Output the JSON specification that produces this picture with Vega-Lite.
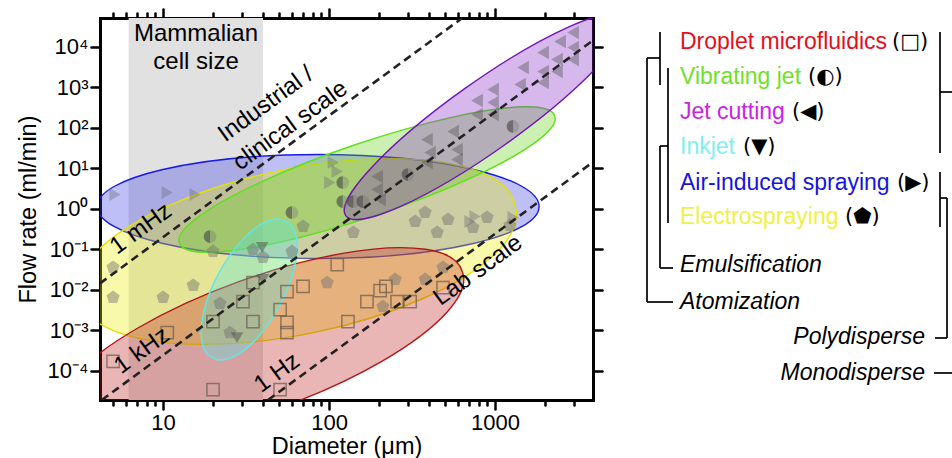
{
  "$schema": "https://vega.github.io/schema/vega-lite/v6.json",
  "width": 493,
  "height": 382,
  "autosize": {"type": "none"},
  "padding": {"left": 100, "top": 18, "right": 359, "bottom": 58},
  "background": "white",
  "config": {
    "view": {"stroke": null},
    "font": "Liberation Sans",
    "axis": {
      "domainColor": "black", "domainWidth": 3, "domainCap": "square",
      "tickColor": "black", "tickWidth": 2.5, "tickCap": "round",
      "grid": false, "labelColor": "black", "labelFontSize": 22, "labelFont": "Liberation Sans",
      "titleFontSize": 23.5, "titleFontWeight": "normal", "titleColor": "black", "titleFont": "Liberation Sans",
      "labelOverlap": false, "labelBound": false, "labelFlush": false, "zindex": 1
    }
  },
  "datasets": {
    "ellipses": [
      {"tech": "Air-induced spraying", "d": 85.9, "q": 1.14},
      {"tech": "Electrospraying", "d": 64.1, "q": 0.0882},
      {"tech": "Vibrating jet", "d": 169.4, "q": 5.29},
      {"tech": "Jet cutting", "d": 871, "q": 190},
      {"tech": "Droplet microfluidics", "d": 38.4, "q": 0.000446},
      {"tech": "Inkjet", "d": 33.0, "q": 0.01017}
    ],
    "freq": [
      {"line": "1 mHz", "d": 4.17, "q": 0.01445},
      {"line": "1 mHz", "d": 635, "q": 51286},
      {"line": "1 kHz", "d": 4.276, "q": 0.00001905},
      {"line": "1 kHz", "d": 3890, "q": 14355},
      {"line": "1 Hz", "d": 42.9, "q": 0.00001905},
      {"line": "1 Hz", "d": 3890, "q": 14.26}
    ],
    "droplet": [
      {"d": 5.0, "q": 0.00017}, {"d": 10.6, "q": 0.00088}, {"d": 20, "q": 0.0000345}, {"d": 50.7, "q": 0.0000345},
      {"d": 20, "q": 0.00165}, {"d": 34.8, "q": 0.00165}, {"d": 30.3, "q": 0.00514}, {"d": 34.8, "q": 0.0151},
      {"d": 55.8, "q": 0.00908}, {"d": 50.7, "q": 0.00326}, {"d": 55.8, "q": 0.00156}, {"d": 55.8, "q": 0.00088},
      {"d": 69.7, "q": 0.0121}, {"d": 112, "q": 0.0421}, {"d": 169, "q": 0.00514}, {"d": 203, "q": 0.0096},
      {"d": 220, "q": 0.0121}, {"d": 257, "q": 0.00514}, {"d": 308, "q": 0.00514}, {"d": 130, "q": 0.00165},
      {"d": 486, "q": 0.0114}
    ],
    "electro": [
      {"d": 5.0, "q": 0.00646}, {"d": 5.0, "q": 0.0356}, {"d": 10, "q": 0.00646}, {"d": 15.2, "q": 0.0128},
      {"d": 20, "q": 0.0882}, {"d": 22, "q": 0.0046}, {"d": 25.3, "q": 0.00088}, {"d": 34.8, "q": 0.0988},
      {"d": 40, "q": 0.0628}, {"d": 59.8, "q": 0.0882}, {"d": 69.7, "q": 0.366}, {"d": 97.3, "q": 0.0151},
      {"d": 140, "q": 0.26}, {"d": 211, "q": 0.00387}, {"d": 250, "q": 0.018}, {"d": 379, "q": 0.018},
      {"d": 486, "q": 0.0356}, {"d": 330, "q": 0.486}, {"d": 379, "q": 0.81}, {"d": 448, "q": 0.26},
      {"d": 521, "q": 0.544}, {"d": 736, "q": 0.345}, {"d": 896, "q": 0.61}, {"d": 1230, "q": 0.387}
    ],
    "jetcut": [
      {"d": 2953, "q": 22550}, {"d": 2464, "q": 13520}, {"d": 2953, "q": 9620}, {"d": 1947, "q": 7230},
      {"d": 2953, "q": 4850}, {"d": 2362, "q": 4850}, {"d": 1475, "q": 3080}, {"d": 1947, "q": 2455},
      {"d": 2362, "q": 2455}, {"d": 1415, "q": 1172}, {"d": 973, "q": 883}, {"d": 1947, "q": 1314},
      {"d": 779, "q": 470}, {"d": 973, "q": 422}, {"d": 779, "q": 213}, {"d": 973, "q": 213},
      {"d": 559, "q": 81}, {"d": 590, "q": 29.1}, {"d": 389, "q": 51.4}, {"d": 406, "q": 24.5},
      {"d": 389, "q": 13.9}, {"d": 590, "q": 16.5}, {"d": 195, "q": 6.28}, {"d": 195, "q": 3.0},
      {"d": 203, "q": 1.7}
    ],
    "air": [
      {"d": 5.14, "q": 2.25}, {"d": 10.6, "q": 2.53}, {"d": 15.6, "q": 2.25}, {"d": 101, "q": 4.46},
      {"d": 112, "q": 8.34}, {"d": 106, "q": 13.9}, {"d": 706, "q": 0.486}, {"d": 758, "q": 0.645},
      {"d": 1283, "q": 0.61}
    ],
    "inkjet": [
      {"d": 39.5, "q": 0.111}, {"d": 40, "q": 0.018}, {"d": 27.9, "q": 0.00066}
    ],
    "vibrating": [
      {"d": 19.2, "q": 0.207}, {"d": 59.8, "q": 0.81}, {"d": 121, "q": 4.46}, {"d": 121, "q": 1.51},
      {"d": 140, "q": 1.51}, {"d": 160, "q": 1.51}, {"d": 299, "q": 7.03}, {"d": 1283, "q": 108}
    ],
    "flatText": [
      {"t": "Mammalian", "d": 15.8, "q": 20140},
      {"t": "cell size", "d": 15.8, "q": 4094}
    ],
    "rotText": [
      {"t": "Industrial /", "d": 41.7, "q": 380},
      {"t": "clinical scale", "d": 58.5, "q": 113},
      {"t": "1 mHz", "d": 7.36, "q": 0.32},
      {"t": "1 kHz", "d": 7.47, "q": 0.00031},
      {"t": "1 Hz", "d": 48.6, "q": 0.000088},
      {"t": "Lab scale", "d": 790, "q": 0.03}
    ],
    "names": [
      {"tech": "Droplet microfluidics", "x": 680, "y": 42},
      {"tech": "Vibrating jet", "x": 680, "y": 77},
      {"tech": "Jet cutting", "x": 680, "y": 112},
      {"tech": "Inkjet", "x": 680, "y": 147},
      {"tech": "Air-induced spraying", "x": 680, "y": 183},
      {"tech": "Electrospraying", "x": 680, "y": 217}
    ],
    "syms": [
      {"s": "(□)", "x": 892, "y": 42},
      {"s": "(◐)", "x": 808, "y": 77},
      {"s": "(◀)", "x": 792, "y": 112},
      {"s": "(▼)", "x": 743, "y": 147},
      {"s": "(▶)", "x": 897, "y": 183},
      {"s": "(⬟)", "x": 845, "y": 217}
    ],
    "groupsLeft": [
      {"t": "Emulsification", "x": 680, "y": 265},
      {"t": "Atomization", "x": 680, "y": 302}
    ],
    "groupsRight": [
      {"t": "Polydisperse", "x": 925, "y": 337},
      {"t": "Monodisperse", "x": 925, "y": 373}
    ],
    "tree": [
      {"x": 660, "y": 32, "x2": 660, "y2": 85},
      {"x": 647, "y": 58, "x2": 660, "y2": 58},
      {"x": 647, "y": 58, "x2": 647, "y2": 302},
      {"x": 647, "y": 302, "x2": 673, "y2": 302},
      {"x": 668, "y": 68, "x2": 668, "y2": 223},
      {"x": 660, "y": 146, "x2": 668, "y2": 146},
      {"x": 660, "y": 146, "x2": 660, "y2": 268},
      {"x": 660, "y": 268, "x2": 673, "y2": 268},
      {"x": 940, "y": 32, "x2": 940, "y2": 153},
      {"x": 940, "y": 92, "x2": 952, "y2": 92},
      {"x": 940, "y": 172, "x2": 940, "y2": 227},
      {"x": 940, "y": 198, "x2": 947, "y2": 198},
      {"x": 947, "y": 198, "x2": 947, "y2": 338},
      {"x": 935, "y": 338, "x2": 947, "y2": 338},
      {"x": 934, "y": 373, "x2": 952, "y2": 373}
    ]
  },
  "layer": [
    {
      "layer": [
        {
          "data": {"values": [{"lo": 6.2, "hi": 40}]},
          "mark": {"type": "rect", "color": "#e1e1e1"},
          "encoding": {
            "x": {"field": "lo", "type": "quantitative",
              "scale": {"type": "log", "domain": [4.17, 3890], "nice": false},
              "axis": {"orient": "bottom",
                "values": [5,6,7,8,9,10,20,30,40,50,60,70,80,90,100,200,300,400,500,600,700,800,900,1000,2000,3000],
                "labelExpr": "datum.value == 10 ? '10' : datum.value == 100 ? '100' : datum.value == 1000 ? '1000' : ''",
                "tickSize": {"condition": {"test": "datum.value == 10 || datum.value == 100 || datum.value == 1000", "value": 9}, "value": 5},
                "labelPadding": 3,
                "title": "Diameter (μm)", "titleX": 246.5, "titleY": 46, "titleBaseline": "middle", "titleAlign": "center"}},
            "x2": {"field": "hi"}
          }
        },
        {
          "data": {"name": "ellipses"},
          "mark": {"type": "point", "filled": true, "size": 4, "fillOpacity": 0.33, "strokeOpacity": 1, "strokeWidth": 1.4, "clip": true},
          "encoding": {
            "x": {"field": "d", "type": "quantitative",
              "scale": {"type": "log", "domain": [4.17, 3890], "nice": false},
              "axis": {"orient": "top",
                "values": [5,6,7,8,9,10,20,30,40,50,60,70,80,90,100,200,300,400,500,600,700,800,900,1000,2000,3000],
                "labels": false,
                "tickSize": {"condition": {"test": "datum.value == 10 || datum.value == 100 || datum.value == 1000", "value": 9}, "value": 5},
                "title": null}},
            "y": {"field": "q", "type": "quantitative",
              "scale": {"type": "log", "domain": [0.00001905, 51286], "nice": false},
              "axis": {"orient": "left",
                "values": [0.0001, 0.001, 0.01, 0.1, 1, 10, 100, 1000, 10000],
                "labelExpr": "'10' + (datum.value < 1 ? '⁻' : '') + ['⁰','¹','²','³','⁴','⁵'][round(abs(log(datum.value)/LN10))]",
                "tickSize": 9, "labelPadding": 3,
                "title": "Flow rate (ml/min)", "titleX": -72, "titleY": 191, "titleAngle": 270, "titleBaseline": "middle", "titleAlign": "center"}},
            "shape": {"field": "tech", "type": "nominal", "legend": null,
              "scale": {
                "domain": ["Air-induced spraying", "Electrospraying", "Vibrating jet", "Jet cutting", "Droplet microfluidics", "Inkjet"],
                "range": [
                  "M221,0A221,52,0,1,0,-221,0A221,52,0,1,0,221,0Z",
                  "M218.4,-44.8A223,81,-11.6,1,0,-218.4,44.8A223,81,-11.6,1,0,218.4,-44.8Z",
                  "M187.5,-63.5A198,36,-18.7,1,0,-187.5,63.5A198,36,-18.7,1,0,187.5,-63.5Z",
                  "M139.4,-99.1A171,34.5,-35.4,1,0,-139.4,99.1A171,34.5,-35.4,1,0,139.4,-99.1Z",
                  "M202,-73.5A215,65,-20,1,0,-202,73.5A215,65,-20,1,0,202,-73.5Z",
                  "M36.7,-68.1A77.4,33.4,-61.7,1,0,-36.7,68.1A77.4,33.4,-61.7,1,0,36.7,-68.1Z"
                ]}},
            "fill": {"field": "tech", "type": "nominal", "legend": null,
              "scale": {
                "domain": ["Air-induced spraying", "Electrospraying", "Vibrating jet", "Jet cutting", "Droplet microfluidics", "Inkjet"],
                "range": ["#3c3ce6", "#ecec00", "#64d214", "#8228c8", "#be1e1e", "#50e6e6"]}},
            "stroke": {"field": "tech", "type": "nominal", "legend": null,
              "scale": {
                "domain": ["Air-induced spraying", "Electrospraying", "Vibrating jet", "Jet cutting", "Droplet microfluidics", "Inkjet"],
                "range": ["#1a1ae6", "#e2e200", "#5ee01a", "#7014b4", "#b01818", "#60e8e8"]}}
          }
        },
        {
          "data": {"name": "droplet"},
          "mark": {"type": "point", "shape": "square", "size": 150, "filled": false, "stroke": "#6e6050", "strokeWidth": 1.5, "opacity": 0.75, "clip": true},
          "encoding": {
            "x": {"field": "d", "type": "quantitative", "scale": {"type": "log", "domain": [4.17, 3890], "nice": false}, "axis": null},
            "y": {"field": "q", "type": "quantitative", "scale": {"type": "log", "domain": [0.00001905, 51286], "nice": false}, "axis": null}
          }
        },
        {
          "data": {"name": "electro"},
          "mark": {"type": "point", "shape": "M0,-1L0.951,-0.309L0.588,0.809L-0.588,0.809L-0.951,-0.309Z", "size": 190, "filled": true, "color": "#6e6e6e", "opacity": 0.45, "clip": true},
          "encoding": {
            "x": {"field": "d", "type": "quantitative", "scale": {"type": "log", "domain": [4.17, 3890], "nice": false}, "axis": null},
            "y": {"field": "q", "type": "quantitative", "scale": {"type": "log", "domain": [0.00001905, 51286], "nice": false}, "axis": null}
          }
        },
        {
          "data": {"name": "jetcut"},
          "mark": {"type": "point", "shape": "triangle-left", "size": 180, "filled": true, "color": "#5e5e5e", "opacity": 0.45, "clip": true},
          "encoding": {
            "x": {"field": "d", "type": "quantitative", "scale": {"type": "log", "domain": [4.17, 3890], "nice": false}, "axis": null},
            "y": {"field": "q", "type": "quantitative", "scale": {"type": "log", "domain": [0.00001905, 51286], "nice": false}, "axis": null}
          }
        },
        {
          "data": {"name": "air"},
          "mark": {"type": "point", "shape": "triangle-right", "size": 170, "filled": true, "color": "#6a6a7a", "opacity": 0.38, "clip": true},
          "encoding": {
            "x": {"field": "d", "type": "quantitative", "scale": {"type": "log", "domain": [4.17, 3890], "nice": false}, "axis": null},
            "y": {"field": "q", "type": "quantitative", "scale": {"type": "log", "domain": [0.00001905, 51286], "nice": false}, "axis": null}
          }
        },
        {
          "data": {"name": "inkjet"},
          "mark": {"type": "point", "shape": "triangle-down", "size": 160, "filled": true, "color": "#505050", "opacity": 0.5, "clip": true},
          "encoding": {
            "x": {"field": "d", "type": "quantitative", "scale": {"type": "log", "domain": [4.17, 3890], "nice": false}, "axis": null},
            "y": {"field": "q", "type": "quantitative", "scale": {"type": "log", "domain": [0.00001905, 51286], "nice": false}, "axis": null}
          }
        },
        {
          "data": {"name": "vibrating"},
          "mark": {"type": "point", "shape": "circle", "size": 160, "filled": true, "color": "#707070", "opacity": 0.32, "clip": true},
          "encoding": {
            "x": {"field": "d", "type": "quantitative", "scale": {"type": "log", "domain": [4.17, 3890], "nice": false}, "axis": null},
            "y": {"field": "q", "type": "quantitative", "scale": {"type": "log", "domain": [0.00001905, 51286], "nice": false}, "axis": null}
          }
        },
        {
          "data": {"name": "vibrating"},
          "mark": {"type": "point", "shape": "M0,-1A1,1,0,0,0,0,1Z", "size": 160, "filled": true, "color": "#3a3a3a", "opacity": 0.45, "clip": true},
          "encoding": {
            "x": {"field": "d", "type": "quantitative", "scale": {"type": "log", "domain": [4.17, 3890], "nice": false}, "axis": null},
            "y": {"field": "q", "type": "quantitative", "scale": {"type": "log", "domain": [0.00001905, 51286], "nice": false}, "axis": null}
          }
        },
        {
          "data": {"name": "freq"},
          "mark": {"type": "line", "strokeDash": [8, 5], "strokeWidth": 2.6, "color": "#222222", "clip": true},
          "encoding": {
            "x": {"field": "d", "type": "quantitative", "scale": {"type": "log", "domain": [4.17, 3890], "nice": false}, "axis": null},
            "y": {"field": "q", "type": "quantitative", "scale": {"type": "log", "domain": [0.00001905, 51286], "nice": false},
              "axis": {"orient": "right", "values": [0.0001, 0.001, 0.01, 0.1, 1, 10, 100, 1000, 10000], "labels": false, "tickSize": 9, "title": null}},
            "detail": {"field": "line", "type": "nominal"}
          }
        },
        {
          "data": {"name": "flatText"},
          "mark": {"type": "text", "fontSize": 24, "color": "black", "align": "center", "baseline": "middle"},
          "encoding": {
            "x": {"field": "d", "type": "quantitative", "scale": {"type": "log", "domain": [4.17, 3890], "nice": false}, "axis": null},
            "y": {"field": "q", "type": "quantitative", "scale": {"type": "log", "domain": [0.00001905, 51286], "nice": false}, "axis": null},
            "text": {"field": "t"}
          }
        },
        {
          "data": {"name": "rotText"},
          "mark": {"type": "text", "fontSize": 24, "color": "black", "align": "center", "baseline": "middle", "angle": -36},
          "encoding": {
            "x": {"field": "d", "type": "quantitative", "scale": {"type": "log", "domain": [4.17, 3890], "nice": false}, "axis": null},
            "y": {"field": "q", "type": "quantitative", "scale": {"type": "log", "domain": [0.00001905, 51286], "nice": false}, "axis": null},
            "text": {"field": "t"}
          }
        }
      ],
      "resolve": {"axis": {"x": "independent", "y": "independent"}}
    },
    {
      "layer": [
        {
          "data": {"name": "tree"},
          "mark": {"type": "rule", "color": "black", "strokeWidth": 1.7},
          "encoding": {
            "x": {"field": "x", "type": "quantitative", "scale": {"domain": [100, 593], "zero": false, "nice": false}, "axis": null},
            "y": {"field": "y", "type": "quantitative", "scale": {"domain": [18, 400], "reverse": true, "zero": false, "nice": false}, "axis": null},
            "x2": {"field": "x2"},
            "y2": {"field": "y2"}
          }
        },
        {
          "data": {"name": "names"},
          "mark": {"type": "text", "fontSize": 23, "align": "left", "baseline": "middle"},
          "encoding": {
            "x": {"field": "x", "type": "quantitative", "scale": {"domain": [100, 593], "zero": false, "nice": false}, "axis": null},
            "y": {"field": "y", "type": "quantitative", "scale": {"domain": [18, 400], "reverse": true, "zero": false, "nice": false}, "axis": null},
            "text": {"field": "tech"},
            "color": {"field": "tech", "type": "nominal", "legend": null,
              "scale": {
                "domain": ["Droplet microfluidics", "Vibrating jet", "Jet cutting", "Inkjet", "Air-induced spraying", "Electrospraying"],
                "range": ["#e3101c", "#72e02a", "#cc22e6", "#7ef0f0", "#1414e0", "#f0f046"]}}
          }
        },
        {
          "data": {"name": "syms"},
          "mark": {"type": "text", "fontSize": 21, "font": "DejaVu Sans", "align": "left", "baseline": "middle", "color": "black"},
          "encoding": {
            "x": {"field": "x", "type": "quantitative", "scale": {"domain": [100, 593], "zero": false, "nice": false}, "axis": null},
            "y": {"field": "y", "type": "quantitative", "scale": {"domain": [18, 400], "reverse": true, "zero": false, "nice": false}, "axis": null},
            "text": {"field": "s"}
          }
        },
        {
          "data": {"name": "groupsLeft"},
          "mark": {"type": "text", "fontSize": 23, "fontStyle": "italic", "align": "left", "baseline": "middle", "color": "black"},
          "encoding": {
            "x": {"field": "x", "type": "quantitative", "scale": {"domain": [100, 593], "zero": false, "nice": false}, "axis": null},
            "y": {"field": "y", "type": "quantitative", "scale": {"domain": [18, 400], "reverse": true, "zero": false, "nice": false}, "axis": null},
            "text": {"field": "t"}
          }
        },
        {
          "data": {"name": "groupsRight"},
          "mark": {"type": "text", "fontSize": 23, "fontStyle": "italic", "align": "right", "baseline": "middle", "color": "black"},
          "encoding": {
            "x": {"field": "x", "type": "quantitative", "scale": {"domain": [100, 593], "zero": false, "nice": false}, "axis": null},
            "y": {"field": "y", "type": "quantitative", "scale": {"domain": [18, 400], "reverse": true, "zero": false, "nice": false}, "axis": null},
            "text": {"field": "t"}
          }
        }
      ]
    }
  ],
  "resolve": {"scale": {"x": "independent", "y": "independent"}, "axis": {"x": "independent", "y": "independent"}}
}
